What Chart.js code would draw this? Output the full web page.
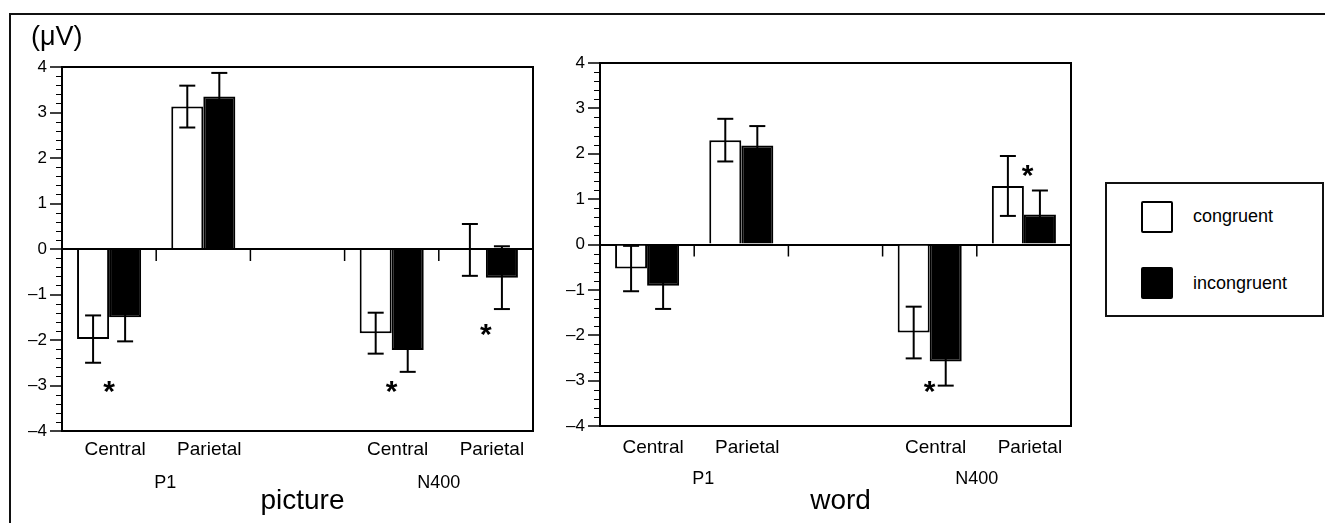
<!DOCTYPE html>
<html>
<head>
<meta charset="utf-8">
<script src="https://cdn.jsdelivr.net/npm/chart.js@4.4.0/dist/chart.umd.min.js"></script>
<style>
  body { margin: 0; background: #fff; font-family: "Liberation Sans", Arial, sans-serif; }
  #page { position: relative; width: 1325px; height: 523px; overflow: hidden; }
  #frame { position: absolute; left: 9px; top: 13px; width: 1400px; height: 600px; border-top: 2px solid #111; border-left: 2px solid #111; }
  .panel { position: absolute; top: 0; width: 545px; height: 523px; }
  #unit { position: absolute; left: 31px; top: 21px; font-size: 27px; line-height: 30px; }
  #legend { position: absolute; left: 1105px; top: 182px; width: 219px; height: 135px; box-sizing: border-box; border: 2px solid #111; }
  .swatch { position: absolute; box-sizing: border-box; width: 32px; height: 32px; border: 2px solid #000; border-radius: 2px; }
  .ltext { position: absolute; font-size: 18px; line-height: 20px; }
</style>
</head>
<body>
<div id="page">
  <div id="frame"></div>
  <div class="panel" style="left:0"><canvas id="picture"></canvas></div>
  <div class="panel" style="left:545px"><canvas id="word"></canvas></div>
  <div id="unit">(μV)</div>
  <div id="legend"></div>
  <div class="swatch" style="left:1141px; top:201px; background:#fff"></div>
  <div class="ltext" style="left:1193px; top:206px">congruent</div>
  <div class="swatch" style="left:1141px; top:267px; background:#000"></div>
  <div class="ltext" style="left:1193px; top:273px">incongruent</div>
</div>
<script>
// categories (third slot is the empty gap between P1 and N400)
const categories = ['Central', 'Parietal', '', 'Central', 'Parietal'];
const groups = ['P1', 'N400'];
const yTicks = [-4, -3, -2, -1, 0, 1, 2, 3, 4];

// picture condition
const pictureCongruent = [-1.98, 3.13, null, -1.85, -0.02];
const pictureCongruentErr = [0.52, 0.46, null, 0.45, 0.57];
const pictureIncongruent = [-1.50, 3.35, null, -2.22, -0.63];
const pictureIncongruentErr = [0.53, 0.52, null, 0.48, 0.69];
const pictureSig = [[0, -3.03], [3, -3.03], [4, -1.78]];

// word condition
const wordCongruent = [-0.53, 2.30, null, -1.94, 1.29];
const wordCongruentErr = [0.50, 0.47, null, 0.57, 0.66];
const wordIncongruent = [-0.91, 2.18, null, -2.58, 0.66];
const wordIncongruentErr = [0.51, 0.43, null, 0.53, 0.53];
const wordSig = [[3, -3.13], [4.04, 1.63]];

Chart.defaults.font.family = '"Liberation Sans", Arial, sans-serif';
Chart.defaults.color = '#000';

const fmtTick = v => v < 0 ? '\u2013' + Math.abs(v) : String(v);

function line(ctx, x1, y1, x2, y2) {
    ctx.beginPath();
    ctx.moveTo(x1, y1);
    ctx.lineTo(x2, y2);
    ctx.stroke();
}

const errorBars = {
    id: 'errorBars',
    afterDatasetsDraw(chart) {
        const ctx = chart.ctx;
        const y = chart.scales.y;
        ctx.save();
        ctx.strokeStyle = '#000';
        ctx.lineWidth = 2;
        chart.data.datasets.forEach((ds, di) => {
            chart.getDatasetMeta(di).data.forEach((bar, i) => {
                const v = ds.data[i];
                const e = ds.errors[i];
                if (v == null || e == null) return;
                const top = y.getPixelForValue(v + e);
                const bot = y.getPixelForValue(v - e);
                line(ctx, bar.x, top, bar.x, bot);
                line(ctx, bar.x - 8, top, bar.x + 8, top);
                line(ctx, bar.x - 8, bot, bar.x + 8, bot);
            });
        });
        ctx.restore();
    }
};

const decorations = {
    id: 'decorations',
    afterDraw(chart, args, opts) {
        const { ctx, chartArea: a, scales: { x, y } } = chart;
        ctx.save();
        ctx.strokeStyle = '#000';
        // minor ticks every 0.2
        ctx.lineWidth = 1;
        for (let k = -20; k <= 20; k++) {
            if (k % 5 === 0) continue;
            const py = Math.round(y.getPixelForValue(k / 5)) + 0.5;
            line(ctx, a.left - 6, py, a.left, py);
        }
        // category boundary ticks on the zero line
        const y0 = y.getPixelForValue(0);
        ctx.lineWidth = 1.5;
        for (let i = 0; i < categories.length - 1; i++) {
            const px = (x.getPixelForValue(i) + x.getPixelForValue(i + 1)) / 2;
            line(ctx, px, y0, px, y0 + 12);
        }
        // plot frame
        ctx.lineWidth = 2;
        ctx.strokeRect(a.left, a.top, a.width, a.height);

        // group labels and panel title
        ctx.fillStyle = '#000';
        ctx.textAlign = 'center';
        ctx.textBaseline = 'alphabetic';
        ctx.font = '18px "Liberation Sans", Arial, sans-serif';
        ctx.fillText(groups[0], x.getPixelForValue(0.5) + 9, opts.groupY);
        ctx.fillText(groups[1], x.getPixelForValue(3.5), opts.groupY);
        ctx.font = '28px "Liberation Sans", Arial, sans-serif';
        ctx.fillText(opts.title, (a.left + a.right) / 2 + 5, 509);

        // significance asterisks
        ctx.font = 'bold 30px "Liberation Sans", Arial, sans-serif';
        const m = ctx.measureText('*');
        const shift = (m.actualBoundingBoxAscent - m.actualBoundingBoxDescent) / 2;
        opts.sig.forEach(([ci, v]) => {
            ctx.fillText('*', x.getPixelForValue(ci), y.getPixelForValue(v) + shift);
        });
        ctx.restore();
    }
};

function makeChart(id, title, cong, congErr, incong, incongErr, sig, geom) {
    return new Chart(document.getElementById(id), {
        type: 'bar',
        data: {
            labels: categories,
            datasets: [
                {
                    label: 'congruent',
                    data: cong,
                    errors: congErr,
                    backgroundColor: '#fff',
                    borderColor: '#000',
                    borderWidth: 2
                },
                {
                    label: 'incongruent',
                    data: incong,
                    errors: incongErr,
                    backgroundColor: '#000',
                    borderColor: '#000',
                    borderWidth: 2
                }
            ]
        },
        options: {
            responsive: true,
            maintainAspectRatio: false,
            animation: false,
            layout: { padding: { top: geom.top, right: geom.right, left: 0, bottom: 0 } },
            categoryPercentage: 0.68,
            barPercentage: 1.0,
            plugins: {
                legend: { display: false },
                tooltip: { enabled: false },
                decorations: { title: title, sig: sig, groupY: geom.groupY }
            },
            scales: {
                x: {
                    grid: { display: false, drawTicks: false },
                    border: { display: false },
                    ticks: {
                        autoSkip: false,
                        maxRotation: 0,
                        padding: geom.labelPad,
                        labelOffset: 6,
                        font: { size: 19 }
                    },
                    afterFit: s => { s.height = geom.xHeight; }
                },
                y: {
                    min: -4,
                    max: 4,
                    afterBuildTicks: s => { s.ticks = yTicks.map(v => ({ value: v })); },
                    grid: {
                        color: c => (c.tick && c.tick.value === 0) ? '#000' : 'rgba(0,0,0,0)',
                        lineWidth: 2,
                        tickColor: '#000',
                        tickLength: 12,
                        tickWidth: 1.5
                    },
                    border: { display: false },
                    ticks: {
                        padding: 3,
                        font: { size: 17 },
                        callback: fmtTick
                    },
                    afterFit: s => { s.width = geom.yWidth; }
                }
            }
        },
        plugins: [errorBars, decorations]
    });
}

makeChart('picture', 'picture',
    pictureCongruent, pictureCongruentErr, pictureIncongruent, pictureIncongruentErr, pictureSig,
    { top: 67, right: 12, yWidth: 62, xHeight: 92, labelPad: 7, groupY: 488 });

makeChart('word', 'word',
    wordCongruent, wordCongruentErr, wordIncongruent, wordIncongruentErr, wordSig,
    { top: 63, right: 19, yWidth: 55, xHeight: 97, labelPad: 10, groupY: 484 });
</script>
</body>
</html>
